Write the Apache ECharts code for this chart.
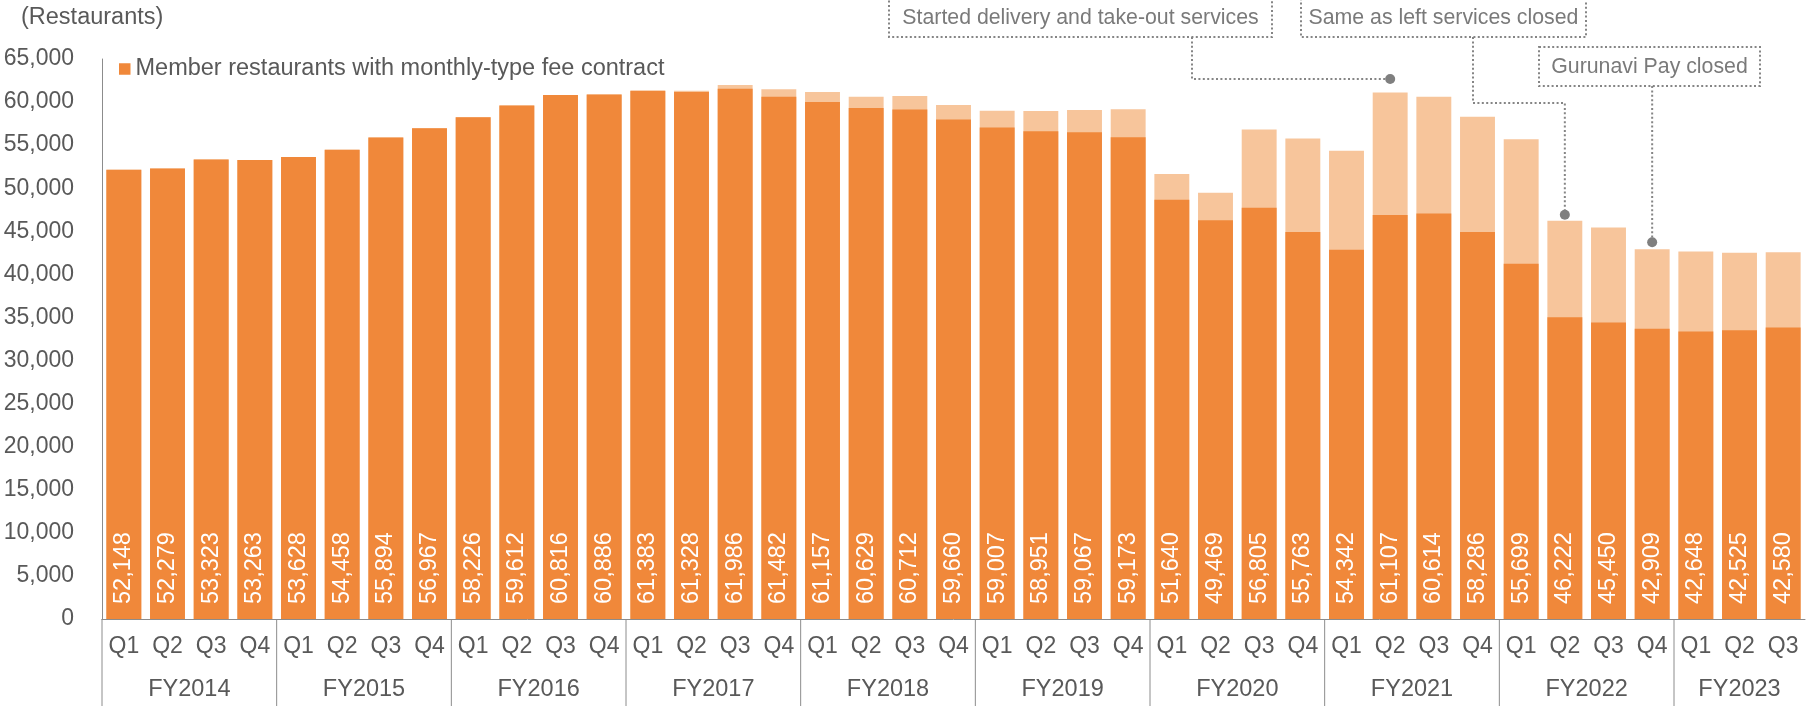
<!DOCTYPE html>
<html>
<head>
<meta charset="utf-8">
<title>Member restaurants</title>
<script src="https://cdn.jsdelivr.net/npm/echarts@6.0.0/dist/echarts.min.js"></script>
<style>
  html, body { margin: 0; padding: 0; background: #ffffff; }
  #chart { width: 1808px; height: 707px; }
</style>
</head>
<body>
<div id="chart"></div>
<script>
// Fiscal years and how many quarters each one covers
const fiscalYears = ['FY2014', 'FY2015', 'FY2016', 'FY2017', 'FY2018', 'FY2019', 'FY2020', 'FY2021', 'FY2022', 'FY2023'];
const quartersPerYear = [4, 4, 4, 4, 4, 4, 4, 4, 4, 3];
const quarterNames = ['Q1', 'Q2', 'Q3', 'Q4'];

// Total member restaurants (value printed on each bar)
const totalRestaurants = [
  52148, 52279, 53323, 53263,
  53628, 54458, 55894, 56967,
  58226, 59612, 60816, 60886,
  61383, 61328, 61986, 61482,
  61157, 60629, 60712, 59660,
  59007, 58951, 59067, 59173,
  51640, 49469, 56805, 55763,
  54342, 61107, 60614, 58286,
  55699, 46222, 45450, 42909,
  42648, 42525, 42580
];

// Member restaurants with monthly-type fee contract
const monthlyFeeMembers = [
  52148, 52279, 53323, 53263,
  53628, 54458, 55894, 56967,
  58226, 59612, 60816, 60886,
  61290, 61170, 61560, 60630,
  60010, 59320, 59150, 57970,
  57040, 56610, 56500, 55930,
  48650, 46290, 47720, 44930,
  42850, 46900, 47060, 44930,
  41220, 35030, 34420, 33680,
  33370, 33530, 33840
];

// Value axis ticks
const yMin = 0;
const yMax = 65000;
const yStep = 5000;

const SERIES_NAME = 'Member restaurants with monthly-type fee contract';
const DARK = '#F0883A';
const LIGHT = '#F7C59B';
const TEXT = '#595959';
const NOTE = '#7a7a7a';
const FONT = '"Liberation Sans", Arial, sans-serif';

// Category keys "FY2014 Q1" ... and fiscal-year groups [startIndex, count]
const categories = [];
const yearGroups = [];
fiscalYears.forEach(function (fy, i) {
  yearGroups.push([categories.length, quartersPerYear[i]]);
  for (let q = 0; q < quartersPerYear[i]; q++) categories.push(fy + ' ' + quarterNames[q]);
});

function withCommas(v) {
  return String(v).replace(/\B(?=(\d{3})+(?!\d))/g, ',');
}

const chart = echarts.init(document.getElementById('chart'), null, { renderer: 'canvas' });

const option = {
  animation: false,
  backgroundColor: '#ffffff',
  textStyle: { fontFamily: FONT },
  title: {
    text: '(Restaurants)',
    left: 16,
    top: 1,
    textStyle: { fontFamily: FONT, fontSize: 23.5, fontWeight: 'normal', color: TEXT }
  },
  legend: {
    data: [{ name: SERIES_NAME, icon: 'rect' }],
    left: 119,
    top: 57,
    padding: 0,
    itemWidth: 11.5,
    itemHeight: 11.5,
    selectedMode: false,
    textStyle: { fontFamily: FONT, fontSize: 23.5, color: TEXT }
  },
  grid: { left: 102, right: 3, top: 59, bottom: 88, containLabel: false },
  xAxis: {
    type: 'category',
    data: categories,
    axisLine: { show: true, lineStyle: { color: '#8c8c8c', width: 1 } },
    axisTick: { show: false },
    axisLabel: {
      interval: 0,
      margin: 16,
      fontFamily: FONT,
      fontSize: 23,
      color: TEXT,
      formatter: function (v) { return v.split(' ')[1]; }
    },
    splitLine: { show: false }
  },
  yAxis: {
    type: 'value',
    min: yMin,
    max: yMax,
    interval: yStep,
    axisLine: { show: true, lineStyle: { color: '#8c8c8c', width: 1 } },
    axisTick: { show: false },
    splitLine: { show: false },
    axisLabel: {
      margin: 28,
      fontFamily: FONT,
      fontSize: 23,
      color: TEXT,
      formatter: function (v) { return withCommas(v); }
    }
  },
  series: [
    {
      name: 'Total',
      type: 'bar',
      data: totalRestaurants,
      barWidth: '80%',
      barGap: '-100%',
      itemStyle: { color: LIGHT },
      silent: true
    },
    {
      name: SERIES_NAME,
      type: 'bar',
      data: monthlyFeeMembers,
      barWidth: '80%',
      barGap: '-100%',
      itemStyle: { color: DARK },
      label: {
        show: true,
        position: 'insideBottom',
        rotate: 90,
        align: 'left',
        verticalAlign: 'middle',
        distance: 15,
        color: '#ffffff',
        fontFamily: FONT,
        fontSize: 23.5,
        formatter: function (p) { return withCommas(totalRestaurants[p.dataIndex]); }
      },
      silent: true
    },
    {
      // Fiscal-year separators and labels under the quarter labels
      name: 'Fiscal years',
      type: 'custom',
      data: yearGroups,
      encode: { x: 0, y: 1 },
      silent: true,
      clip: false,
      renderItem: function (params, api) {
        const start = api.value(0);
        const count = api.value(1);
        const band = api.size([1, 0])[0];
        const first = api.coord([start, 0]);
        const last = api.coord([start + count - 1, 0]);
        const xLeft = first[0] - band / 2;
        const base = first[1];
        return {
          type: 'group',
          children: [
            {
              type: 'line',
              shape: { x1: xLeft, y1: base, x2: xLeft, y2: base + 87 },
              style: { stroke: '#8c8c8c', lineWidth: 1 }
            },
            {
              type: 'text',
              x: (first[0] + last[0]) / 2,
              y: base + 71,
              style: {
                text: fiscalYears[params.dataIndex],
                fill: TEXT,
                font: '23.5px ' + FONT,
                align: 'center',
                verticalAlign: 'middle'
              }
            }
          ]
        };
      }
    }
  ]
};

chart.setOption(option);

// Call-out notes with dotted leaders pointing at bars
const notes = [
  { text: 'Started delivery and take-out services', box: [889, -3, 383, 40], target: 'FY2021 Q2', path: 'elbow', stemX: 1192, elbowY: 79 },
  { text: 'Same as left services closed', box: [1301, -3, 285, 40], target: 'FY2022 Q2', path: 'step', stemX: 1473, elbowY: 103, gap: 6 },
  { text: 'Gurunavi Pay closed', box: [1539, 47, 221, 39], target: 'FY2022 Q4', path: 'drop', gap: 7 }
];

const dotted = { stroke: '#858585', lineWidth: 2, lineDash: [2, 2.4], fill: null };
const graphics = [];
notes.forEach(function (n) {
  const idx = categories.indexOf(n.target);
  const top = chart.convertToPixel({ gridIndex: 0 }, [idx, totalRestaurants[idx]]);
  const bx = n.box[0], by = n.box[1], bw = n.box[2], bh = n.box[3];
  graphics.push({
    type: 'rect', silent: true,
    shape: { x: bx, y: by, width: bw, height: bh },
    style: Object.assign({}, dotted)
  });
  graphics.push({
    type: 'text', silent: true,
    x: bx + bw / 2, y: by + bh / 2 + 1,
    style: { text: n.text, fill: NOTE, font: '21.3px ' + FONT, align: 'center', verticalAlign: 'middle' }
  });
  let pts, dot;
  const boxBottom = by + bh;
  if (n.path === 'elbow') {
    dot = [top[0], n.elbowY];
    pts = [[n.stemX, boxBottom], [n.stemX, n.elbowY], dot];
  } else if (n.path === 'step') {
    dot = [top[0], top[1] - n.gap];
    pts = [[n.stemX, boxBottom], [n.stemX, n.elbowY], [top[0], n.elbowY], dot];
  } else {
    dot = [top[0], top[1] - n.gap];
    pts = [[top[0], boxBottom], dot];
  }
  graphics.push({
    type: 'polyline', silent: true,
    shape: { points: pts },
    style: Object.assign({}, dotted)
  });
  graphics.push({
    type: 'circle', silent: true,
    shape: { cx: dot[0], cy: dot[1], r: 5 },
    style: { fill: '#7f7f7f' }
  });
});

chart.setOption({ graphic: graphics });
</script>
</body>
</html>
